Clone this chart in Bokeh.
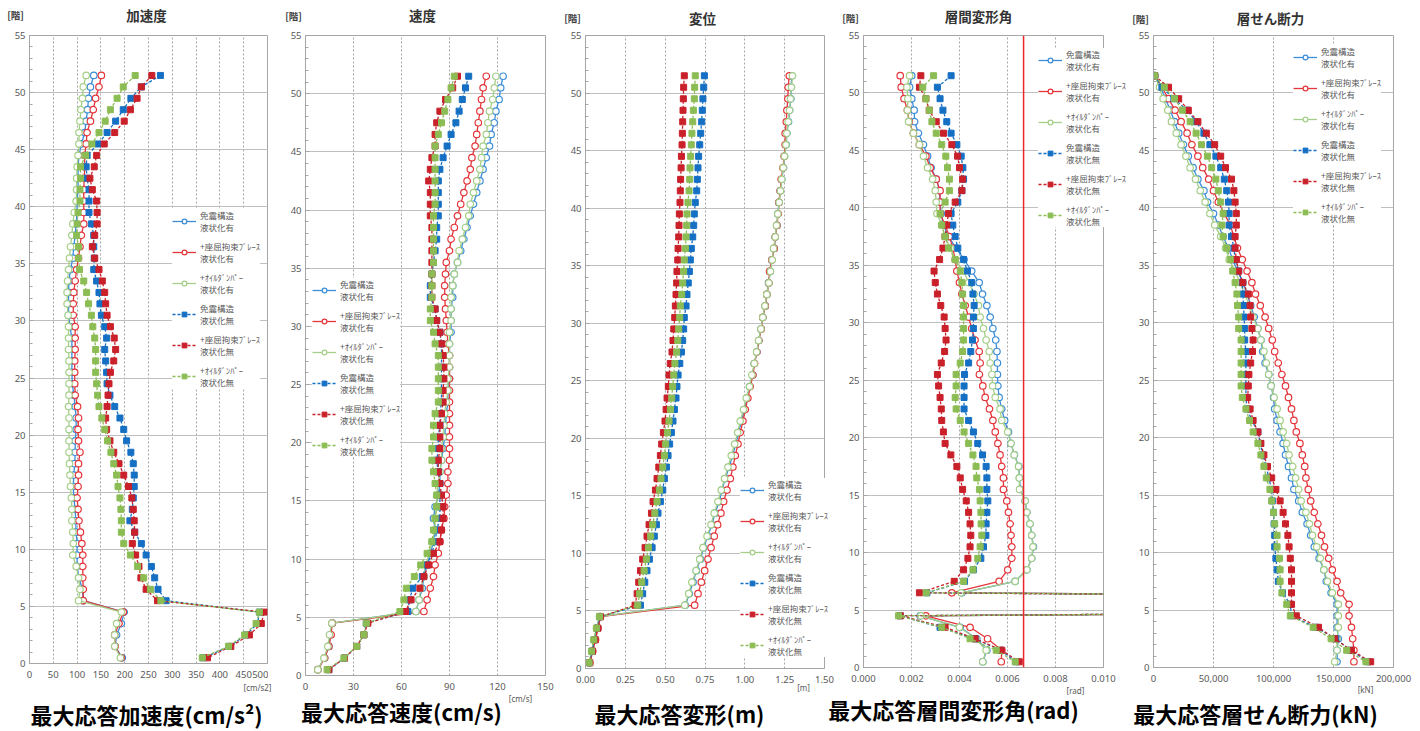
from bokeh.plotting import figure
from bokeh.layouts import row
from bokeh.models import (Range1d, FixedTicker, NumeralTickFormatter,
                          Legend, LegendItem, Span, GridBox)
from bokeh.core.properties import value
from bokeh.embed import file_html
from bokeh.resources import INLINE

# ---------------- data (floors from top to bottom) ----------------
FLOORS = [51.5, 50.5, 49.5, 48.5, 47.5, 46.5, 45.5, 44.5, 43.5, 42.5,
          41.5, 40.5, 39.5, 38.5, 37.5, 36.5, 35.5, 34.5, 33.5, 32.5,
          31.5, 30.5, 29.5, 28.5, 27.5, 26.5, 25.5, 24.5, 23.5, 22.5,
          21.5, 20.5, 19.5, 18.5, 17.5, 16.5, 15.5, 14.5, 13.5, 12.5,
          11.5, 10.5, 9.5, 8.5, 7.5, 6.5, 5.5, 4.5, 3.5, 2.5,
          1.5, 0.5]

SERIES_NAMES = ["免震構造\n液状化有", "+座屈拘束ﾌﾞﾚｰｽ\n液状化有", "+ｵｲﾙﾀﾞﾝﾊﾟｰ\n液状化有",
                "免震構造\n液状化無", "+座屈拘束ﾌﾞﾚｰｽ\n液状化無", "+ｵｲﾙﾀﾞﾝﾊﾟｰ\n液状化無"]

PANEL_TITLES = ["加速度", "速度", "変位", "層間変形角", "層せん断力"]
FLOOR_UNIT = "[階]"
X_UNITS = ["[cm/s2]", "[cm/s]", "[m]", "[rad]", "[kN]"]
BIG_LABELS = ["最大応答加速度(cm/s²)", "最大応答速度(cm/s)", "最大応答変形(m)",
              "最大応答層間変形角(rad)", "最大応答層せん断力(kN)"]

# acceleration [cm/s2]
ACC_A = [135, 128, 124, 122, 119, 116, 109, 104, 102, 102,
         102, 100, 100, 98, 96, 93, 91, 86, 83, 82,
         82, 82, 85, 89, 89, 89, 89, 90, 93, 96,
         98, 98, 96, 96, 95, 93, 92, 93, 96, 97,
         98, 100, 100, 100, 104, 111, 113, 199, 193, 183,
         180, 195]
ACC_B = [151, 146, 139, 134, 128, 121, 119, 116, 116, 115,
         114, 114, 114, 114, 109, 106, 103, 99, 96, 93,
         92, 92, 96, 96, 96, 95, 95, 95, 96, 101,
         103, 102, 103, 106, 103, 103, 102, 100, 102, 104,
         107, 110, 112, 112, 112, 113, 113, 197, 188, 179,
         180, 193]
ACC_C = [119, 113, 111, 108, 106, 104, 104, 102, 100, 99,
         99, 98, 94, 91, 89, 86, 84, 82, 80, 79,
         79, 81, 82, 82, 82, 83, 83, 83, 83, 82,
         83, 83, 83, 83, 84, 85, 86, 88, 89, 89,
         91, 92, 91, 98, 103, 106, 103, 193, 183, 179,
         179, 191]
ACC_D = [275, 235, 213, 197, 181, 163, 144, 121, 119, 121,
         125, 125, 125, 130, 135, 135, 136, 135, 141, 146,
         148, 151, 158, 162, 158, 160, 162, 163, 169, 179,
         190, 198, 204, 213, 218, 220, 220, 218, 216, 211,
         221, 235, 245, 256, 263, 270, 287, 483, 479, 455,
         420, 365]
ACC_E = [257, 235, 226, 212, 199, 179, 157, 141, 136, 127,
         132, 141, 142, 142, 137, 132, 137, 146, 153, 158,
         160, 163, 170, 178, 181, 177, 170, 167, 165, 163,
         160, 162, 169, 177, 188, 198, 208, 215, 218, 220,
         221, 216, 223, 230, 234, 245, 269, 493, 487, 462,
         423, 374]
ACC_F = [222, 197, 184, 170, 159, 146, 131, 118, 107, 107,
         106, 106, 102, 100, 99, 103, 103, 105, 114, 120,
         124, 130, 133, 137, 139, 139, 139, 141, 143, 146,
         152, 158, 164, 171, 177, 183, 186, 190, 192, 193,
         193, 198, 212, 227, 240, 254, 276, 483, 476, 452,
         418, 363]

# velocity [cm/s]
VEL_A = [123.5, 122, 121, 119, 118, 116, 115, 113, 111, 109,
         107, 105, 103, 101, 99, 97, 95, 93, 92, 92,
         91, 91, 91, 90, 90, 90, 90, 89, 89, 88,
         87.5, 87, 86, 85, 84, 84, 83, 81, 80, 81,
         80, 78, 76, 74, 73, 71, 69, 16.7, 15.6, 14.6,
         11.9, 7.7]
VEL_B = [113, 111, 110, 109, 108, 107, 106, 104, 103, 101,
         99, 97, 95, 93, 91, 90, 88, 87.5, 87, 87,
         87.5, 88, 88.5, 89, 90, 90, 90, 90, 90, 90,
         90, 90, 90, 90, 89, 89, 88, 87, 86.5, 85,
         84, 83, 81, 80, 78, 76, 74, 16.7, 16, 14.6,
         12, 7.7]
VEL_C = [119, 118, 117, 115, 114, 113, 111, 110, 109, 107,
         105, 103, 102, 100, 98, 96, 95, 93, 92, 91,
         91, 91, 90, 90, 90, 90, 89, 89, 88, 87,
         86.5, 86, 85, 85, 84, 83, 82, 82, 81, 81,
         79, 77.5, 75, 74, 72, 71, 69, 16.5, 15, 14,
         11.5, 7.7]
VEL_D = [102, 100, 98, 96, 94, 91, 88.5, 86, 84, 83,
         83, 83, 83, 82, 82, 81, 80, 79, 78, 78,
         81, 82, 84, 85, 85, 85, 85, 85, 85, 84,
         84, 83, 83, 82, 83, 84, 84, 84, 84, 82,
         81, 79, 76, 73, 67, 65, 64, 38, 36.5, 32,
         24.4, 14.6]
VEL_E = [95, 92, 87.5, 84, 82, 81, 81, 79, 78, 77,
         78, 78, 78, 79, 79, 79, 79, 79, 79, 79,
         81, 82, 84, 85, 86, 86.5, 86.5, 86, 86, 85,
         84, 84, 84, 83, 83, 84, 85, 86, 86, 85,
         84, 80, 77, 74, 71.5, 66, 62.5, 39, 36.5, 32,
         24.4, 14.6]
VEL_F = [93, 91, 89, 87, 85, 83, 81, 81, 81, 81,
         81, 81, 80, 80, 80, 80, 80, 79, 79, 79,
         78, 78, 80, 81, 83, 83, 83, 83, 83, 81,
         80, 80, 79, 79, 80, 81, 82, 82, 81, 80,
         79, 76, 72, 68, 63, 61.5, 59, 38, 36.5, 32,
         24, 13.5]

# displacement [m]
DIS_A = [1.295, 1.291, 1.289, 1.281, 1.274, 1.264, 1.26, 1.249, 1.243, 1.232,
         1.222, 1.214, 1.207, 1.201, 1.191, 1.184, 1.17, 1.159, 1.149, 1.138,
         1.128, 1.113, 1.101, 1.088, 1.076, 1.059, 1.049, 1.03, 1.013, 0.999,
         0.978, 0.961, 0.944, 0.923, 0.902, 0.877, 0.856, 0.84, 0.813, 0.794,
         0.767, 0.742, 0.721, 0.696, 0.675, 0.652, 0.627, 0.09, 0.073, 0.056,
         0.042, 0.025]
DIS_B = [1.279, 1.272, 1.27, 1.264, 1.26, 1.253, 1.253, 1.247, 1.239, 1.228,
         1.222, 1.214, 1.21, 1.201, 1.191, 1.184, 1.17, 1.155, 1.151, 1.138,
         1.128, 1.113, 1.103, 1.088, 1.076, 1.061, 1.051, 1.034, 1.019, 1.003,
         0.988, 0.971, 0.957, 0.94, 0.925, 0.909, 0.888, 0.867, 0.85, 0.829,
         0.808, 0.788, 0.769, 0.748, 0.727, 0.706, 0.685, 0.094, 0.079, 0.063,
         0.046, 0.027]
DIS_C = [1.299, 1.293, 1.287, 1.281, 1.272, 1.264, 1.258, 1.249, 1.241, 1.232,
         1.224, 1.216, 1.207, 1.199, 1.191, 1.18, 1.172, 1.161, 1.151, 1.138,
         1.126, 1.113, 1.101, 1.086, 1.074, 1.059, 1.044, 1.03, 1.009, 0.992,
         0.971, 0.955, 0.936, 0.915, 0.894, 0.873, 0.852, 0.831, 0.808, 0.788,
         0.763, 0.737, 0.717, 0.694, 0.668, 0.648, 0.623, 0.088, 0.069, 0.052,
         0.038, 0.023]
DIS_D = [0.746, 0.742, 0.737, 0.733, 0.729, 0.723, 0.717, 0.71, 0.706, 0.702,
         0.698, 0.689, 0.683, 0.679, 0.673, 0.664, 0.658, 0.652, 0.645, 0.637,
         0.631, 0.62, 0.616, 0.61, 0.602, 0.592, 0.581, 0.574, 0.568, 0.558,
         0.549, 0.539, 0.528, 0.518, 0.508, 0.495, 0.485, 0.47, 0.455, 0.445,
         0.432, 0.418, 0.401, 0.386, 0.372, 0.359, 0.345, 0.09, 0.073, 0.056,
         0.042, 0.025]
DIS_E = [0.62, 0.616, 0.614, 0.612, 0.61, 0.608, 0.606, 0.602, 0.6, 0.597,
         0.595, 0.593, 0.589, 0.587, 0.585, 0.581, 0.579, 0.574, 0.572, 0.568,
         0.564, 0.56, 0.554, 0.549, 0.543, 0.532, 0.524, 0.52, 0.512, 0.506,
         0.499, 0.489, 0.478, 0.47, 0.46, 0.449, 0.439, 0.424, 0.414, 0.399,
         0.386, 0.374, 0.359, 0.345, 0.334, 0.324, 0.311, 0.094, 0.077, 0.061,
         0.044, 0.027]
DIS_F = [0.689, 0.685, 0.683, 0.677, 0.673, 0.668, 0.664, 0.66, 0.656, 0.654,
         0.65, 0.643, 0.637, 0.635, 0.631, 0.627, 0.62, 0.616, 0.61, 0.604,
         0.595, 0.591, 0.585, 0.579, 0.572, 0.561, 0.554, 0.547, 0.541, 0.533,
         0.524, 0.514, 0.503, 0.495, 0.485, 0.474, 0.464, 0.449, 0.435, 0.422,
         0.409, 0.395, 0.382, 0.368, 0.353, 0.34, 0.328, 0.088, 0.069, 0.052,
         0.038, 0.023]

# inter-story drift angle [rad]
DRI_A = [0.00201, 0.00192, 0.00201, 0.00211, 0.00213, 0.00229, 0.0025, 0.00267, 0.00282, 0.00303,
         0.00317, 0.00319, 0.00324, 0.00333, 0.00354, 0.00386, 0.00419, 0.00451, 0.00482, 0.00496,
         0.00514, 0.00528, 0.00539, 0.00551, 0.00556, 0.00558, 0.00558, 0.0056, 0.00565, 0.00576,
         0.00588, 0.00604, 0.00614, 0.00629, 0.00647, 0.0065, 0.00653, 0.00674, 0.00681, 0.00694,
         0.00701, 0.00708, 0.00701, 0.00681, 0.00632, 0.0041, 0.07, 0.00236, 0.00403, 0.00472,
         0.00514, 0.00497]
DRI_B = [0.00153, 0.00157, 0.00169, 0.00183, 0.0019, 0.00208, 0.00233, 0.0026, 0.00278, 0.00303,
         0.00319, 0.00319, 0.00319, 0.0034, 0.00358, 0.00372, 0.00382, 0.00389, 0.004, 0.0041,
         0.00424, 0.00438, 0.00451, 0.00465, 0.00482, 0.00486, 0.00483, 0.00497, 0.00507, 0.00525,
         0.00539, 0.00549, 0.0056, 0.00569, 0.00576, 0.00583, 0.00583, 0.00597, 0.00604, 0.00611,
         0.00615, 0.00618, 0.00618, 0.00601, 0.00565, 0.00368, 0.07, 0.0026, 0.00444, 0.00517,
         0.00576, 0.00574]
DRI_C = [0.00192, 0.00181, 0.00185, 0.00183, 0.00188, 0.00208, 0.00233, 0.0025, 0.00267, 0.00288,
         0.00299, 0.00303, 0.00306, 0.00326, 0.0034, 0.00361, 0.00382, 0.00417, 0.00438, 0.00461,
         0.00479, 0.00486, 0.005, 0.00511, 0.00524, 0.00528, 0.00535, 0.00538, 0.00549, 0.00569,
         0.00576, 0.00601, 0.00615, 0.00628, 0.00646, 0.00649, 0.0065, 0.00674, 0.00681, 0.00694,
         0.00701, 0.00706, 0.00701, 0.00681, 0.00632, 0.00407, 0.07, 0.00239, 0.004, 0.00469,
         0.00511, 0.00497]
DRI_D = [0.00365, 0.00308, 0.00319, 0.00331, 0.00347, 0.00365, 0.00389, 0.00407, 0.00414, 0.00417,
         0.0041, 0.00393, 0.00365, 0.00372, 0.00382, 0.00393, 0.00417, 0.00433, 0.00451, 0.00456,
         0.00461, 0.00458, 0.00458, 0.00454, 0.00447, 0.00438, 0.00421, 0.00419, 0.00419, 0.00419,
         0.00438, 0.00458, 0.00476, 0.00496, 0.00511, 0.00514, 0.00514, 0.00518, 0.00514, 0.00511,
         0.0051, 0.005, 0.00489, 0.00458, 0.00421, 0.00264, 0.07, 0.00153, 0.00319, 0.00465,
         0.00572, 0.00636]
DRI_E = [0.00239, 0.00233, 0.0026, 0.00274, 0.00303, 0.00333, 0.00368, 0.00392, 0.004, 0.00413,
         0.0041, 0.00382, 0.00354, 0.00347, 0.0034, 0.00331, 0.00317, 0.00294, 0.00299, 0.00308,
         0.00322, 0.00336, 0.0034, 0.00344, 0.00338, 0.00324, 0.00308, 0.00313, 0.00319, 0.00324,
         0.00326, 0.00333, 0.0034, 0.00364, 0.00389, 0.00403, 0.00413, 0.00428, 0.00438, 0.00444,
         0.00447, 0.00444, 0.00435, 0.00417, 0.00378, 0.00233, 0.07, 0.00153, 0.0034, 0.00465,
         0.00576, 0.00649]
DRI_F = [0.00292, 0.00247, 0.0026, 0.00274, 0.00285, 0.00303, 0.00326, 0.00343, 0.0035, 0.00358,
         0.00358, 0.0034, 0.00319, 0.00326, 0.0034, 0.00354, 0.00382, 0.00403, 0.0041, 0.00413,
         0.00417, 0.00417, 0.00417, 0.00417, 0.00413, 0.00403, 0.00386, 0.00386, 0.00382, 0.00386,
         0.00403, 0.00419, 0.00438, 0.00456, 0.00469, 0.00472, 0.00483, 0.00486, 0.00489, 0.0049,
         0.00493, 0.00486, 0.00476, 0.00456, 0.00417, 0.00261, 0.07, 0.00146, 0.00326, 0.00444,
         0.00553, 0.00632]
DRIFT_LIMIT = 0.00667

# story shear [kN]
SHE_A = [1000, 6000, 10000, 14000, 17500, 21000, 25000, 29000, 33000, 37000,
         42000, 45000, 50000, 54000, 58000, 62500, 66000, 70000, 74500, 78000,
         81000, 84000, 87000, 89500, 91000, 93000, 96000, 98000, 100000, 101000,
         103000, 105500, 108000, 110000, 112500, 115000, 117000, 121000, 124000, 128000,
         131000, 134000, 138000, 142000, 144000, 148000, 153000, 153000, 153000, 154000,
         153000, 153000]
SHE_B = [1000, 7000, 12500, 18000, 23000, 28000, 32000, 37000, 41000, 46000,
         50000, 54000, 59000, 64000, 67000, 70000, 74000, 78000, 82000, 85000,
         89000, 93000, 96000, 99000, 101000, 104000, 107000, 110000, 112500, 115000,
         117000, 119000, 122000, 124000, 126000, 127000, 129000, 131000, 134000, 137000,
         140000, 142500, 146000, 149000, 153000, 156000, 163000, 163000, 165000, 166000,
         167000, 167000]
SHE_C = [1000, 5000, 8000, 12000, 15000, 19000, 23000, 27000, 30500, 35000,
         39000, 43000, 47000, 51000, 56000, 60000, 63000, 68000, 72000, 76000,
         80000, 83000, 87000, 89500, 92000, 94000, 96000, 98000, 100500, 103000,
         105500, 108000, 111000, 113000, 116000, 118500, 121000, 123000, 127000, 130000,
         132500, 136000, 139000, 142000, 145000, 149000, 154000, 154000, 154000, 153000,
         153000, 151000]
SHE_D = [1000, 7000, 17000, 28000, 35500, 42000, 47000, 52000, 56000, 59000,
         61000, 62500, 63000, 63000, 65000, 67000, 68000, 71000, 74000, 74500,
         75000, 75500, 76000, 76000, 77000, 77000, 77000, 77000, 77000, 78000,
         82000, 87000, 89000, 91000, 94000, 96000, 98500, 99000, 100000, 100500,
         101000, 101000, 102000, 103000, 104000, 107500, 114000, 115000, 135000, 152000,
         164000, 179000]
SHE_E = [1000, 12500, 21000, 29000, 37000, 44000, 51000, 56000, 60000, 65000,
         67000, 68000, 69000, 69000, 68000, 68000, 69000, 71000, 74500, 79000,
         80500, 81000, 82000, 83000, 82500, 81000, 79500, 79000, 78500, 80500,
         83000, 87000, 89500, 92000, 95000, 98500, 102000, 105500, 108000, 110000,
         112000, 113000, 114000, 115000, 115000, 115000, 115000, 119000, 137500, 151000,
         165000, 181000]
SHE_F = [1000, 9000, 17500, 24000, 30500, 35500, 40000, 45000, 48500, 52000,
         54000, 56000, 58000, 57000, 58000, 61000, 64000, 66000, 68000, 69500,
         70000, 71000, 71000, 73000, 73000, 73000, 73000, 73000, 74000, 77000,
         80000, 83000, 87000, 89500, 92000, 94000, 97000, 98500, 100000, 101000,
         103000, 103000, 105000, 105500, 105500, 107000, 111000, 114000, 133000, 148000,
         161000, 177000]

Y_TICKS = [0, 5, 10, 15, 20, 25, 30, 35, 40, 45, 50, 55]
ACC_TICKS = [0, 50, 100, 150, 200, 250, 300, 350, 400, 450, 500]
VEL_TICKS = [0, 30, 60, 90, 120, 150]
DIS_TICKS = [0, 0.25, 0.5, 0.75, 1.0, 1.25, 1.5]
DRI_TICKS = [0, 0.002, 0.004, 0.006, 0.008, 0.010]
SHE_TICKS = [0, 50000, 100000, 150000, 200000]

# ---------------- styling ----------------
STYLES = [
    dict(color="#3C8DD8", dash="solid", marker="circle", fill="white"),
    dict(color="#E4353B", dash="solid", marker="circle", fill="white"),
    dict(color="#A5CF88", dash="solid", marker="circle", fill="white"),
    dict(color="#1570C4", dash="3 2", marker="square", fill=None),
    dict(color="#C9202A", dash="3 2", marker="square", fill=None),
    dict(color="#8CBD55", dash="3 2", marker="square", fill=None),
]
CJK = "Noto Sans CJK JP"
NUM = "Noto Sans"
GRAY = "#A6A6A6"
PAGE_W, PAGE_H = 1420, 731

LEGEND_KW = dict(orientation="vertical", label_text_font=CJK,
                 label_text_font_size="8.5px", label_text_color="#595959",
                 label_text_line_height=1.45, glyph_width=24, glyph_height=12,
                 label_height=12, label_standoff=4, spacing=7, padding=4,
                 margin=0, border_line_color=None,
                 background_fill_color="white", background_fill_alpha=1.0)


def add_series(p, series, **rkw):
    rends = []
    for vals, st in zip(series, STYLES):
        ln = p.line(vals, FLOORS, line_color=st["color"], line_width=1.3,
                    line_dash=st["dash"], **rkw)
        if st["fill"] == "white":
            sc = p.scatter(vals, FLOORS, marker="circle", size=6.5,
                           line_color=st["color"], line_width=1.2,
                           fill_color="white", **rkw)
        else:
            sc = p.scatter(vals, FLOORS, marker="square", size=6,
                           line_color=st["color"], fill_color=st["color"], **rkw)
        rends.append((ln, sc))
    return rends


def legend_for(rends, loc):
    return Legend(items=[LegendItem(label=n, renderers=[l, s])
                         for n, (l, s) in zip(SERIES_NAMES, rends)],
                  location=loc, **LEGEND_KW)


def make_panel(series, x_end, x_ticks, fmt, frame_w, frame_h, borders,
               legend_xy=None, limit=None):
    bl, br, bt, bb = borders
    p = figure(frame_width=frame_w, frame_height=frame_h,
               x_range=Range1d(0, x_end), y_range=Range1d(0, 55),
               output_backend="svg", toolbar_location=None,
               min_border_left=bl, min_border_right=br,
               min_border_top=bt, min_border_bottom=bb,
               outline_line_color=GRAY, outline_line_width=1)
    p.xaxis.ticker = FixedTicker(ticks=x_ticks)
    p.xaxis.formatter = NumeralTickFormatter(format=fmt)
    p.xaxis.major_tick_in = 0
    p.xaxis.major_tick_out = 0
    p.xaxis.minor_tick_in = 0
    p.xaxis.minor_tick_out = 0
    p.xaxis.axis_line_color = GRAY
    p.xaxis.major_label_standoff = 7
    p.yaxis.ticker = FixedTicker(ticks=Y_TICKS, minor_ticks=list(range(56)))
    p.yaxis.major_tick_in = 4
    p.yaxis.major_tick_out = 0
    p.yaxis.minor_tick_in = 3
    p.yaxis.minor_tick_out = 0
    p.yaxis.major_tick_line_color = GRAY
    p.yaxis.minor_tick_line_color = GRAY
    p.yaxis.axis_line_color = GRAY
    p.yaxis.major_label_standoff = 4
    for ax in (p.xaxis, p.yaxis):
        ax.major_label_text_font = NUM
        ax.major_label_text_font_size = "9.5px"
        ax.major_label_text_color = "#595959"
    p.xgrid.grid_line_color = GRAY
    p.xgrid.grid_line_dash = "2 2"
    p.ygrid.grid_line_color = "#BFBFBF"

    if limit is not None:
        p.add_layout(Span(location=limit, dimension="height",
                          line_color="#E8262C", line_width=1.5))

    rends = add_series(p, series)
    if legend_xy is not None:
        p.add_layout(legend_for(rends, legend_xy))
    return p


p1 = make_panel([ACC_A, ACC_B, ACC_C, ACC_D, ACC_E, ACC_F], 500, ACC_TICKS, "0",
                238, 628, (29, 1, 31, 72), legend_xy=(143, 275))
p2 = make_panel([VEL_A, VEL_B, VEL_C, VEL_D, VEL_E, VEL_F], 150, VEL_TICKS, "0",
                240, 640, (37, 20, 32, 59), legend_xy=(7, 218))
p3 = make_panel([DIS_A, DIS_B, DIS_C, DIS_D, DIS_E, DIS_F], 1.5, DIS_TICKS, "0.00",
                239, 633, (20, 20, 33, 65))
p4 = make_panel([DRI_A, DRI_B, DRI_C, DRI_D, DRI_E, DRI_F], 0.010, DRI_TICKS, "0.000",
                240, 632, (19, 32, 33, 66), limit=DRIFT_LIMIT)
p5 = make_panel([SHE_A, SHE_B, SHE_C, SHE_D, SHE_E, SHE_F], 200000, SHE_TICKS, "0,0",
                240, 632, (17, 28, 35, 64), legend_xy=(140, 443))

charts = row(p1, p2, p3, p4, p5, spacing=0)

# ---------- transparent overlay for texts (and legends) outside the frames ----------
ov = figure(width=PAGE_W, height=PAGE_H, x_range=Range1d(0, PAGE_W),
            y_range=Range1d(PAGE_H, 0), x_axis_location=None,
            y_axis_location=None, toolbar_location=None, output_backend="svg",
            min_border=0, outline_line_color=None, background_fill_alpha=0,
            border_fill_alpha=0)
ov.grid.visible = False
# the legend-only copies of the series live on ranges that keep them off the page
ov.extra_x_ranges = {"off": Range1d(10, 11)}
ov.extra_y_ranges = {"off": Range1d(1000, 1001)}

TITLE_X = [146, 422, 702, 978, 1270]
TITLE_Y = [14, 14, 17, 15, 17]
KAI_X = [15, 293, 572, 850, 1140]
KAI_Y = [14, 15, 17, 17, 18]
UNIT_X = [257, 520, 803, 1075, 1365]
UNIT_Y = [687, 698, 687, 690, 689]
BIG_X = [146, 401, 679, 953, 1255]
BIG_Y = [713, 710, 712, 708, 712]

ov.text(x=TITLE_X, y=TITLE_Y, text=PANEL_TITLES, text_font=value(CJK),
        text_font_size=value("13.5px"), text_font_style=value("bold"),
        text_color="#333333", text_align=value("center"),
        text_baseline=value("middle"))
ov.text(x=KAI_X, y=KAI_Y, text=[FLOOR_UNIT] * 5, text_font=value(CJK),
        text_font_size=value("9.5px"), text_font_style=value("bold"),
        text_color="#404040", text_align=value("center"),
        text_baseline=value("middle"))
ov.text(x=UNIT_X, y=UNIT_Y, text=X_UNITS, text_font=value(NUM),
        text_font_size=value("8px"), text_color="#595959",
        text_align=value("center"), text_baseline=value("middle"))
ov.text(x=BIG_X, y=BIG_Y, text=BIG_LABELS, text_font=value(CJK),
        text_font_size=value("22px"), text_font_style=value("bold"),
        text_color="#000000", text_align=value("center"),
        text_baseline=value("middle"))

# legends of the displacement and drift panels spill over the frame edge
ghost = add_series(ov, [DRI_A, DRI_B, DRI_C, DRI_D, DRI_E, DRI_F],
                   x_range_name="off", y_range_name="off")
ov.add_layout(legend_for(ghost, (740, 74)))
ov.add_layout(legend_for(ghost, (1038, 504)))

page = GridBox(children=[(charts, 0, 0), (ov, 0, 0)])
open("out.html", "w").write(file_html(page, INLINE))
